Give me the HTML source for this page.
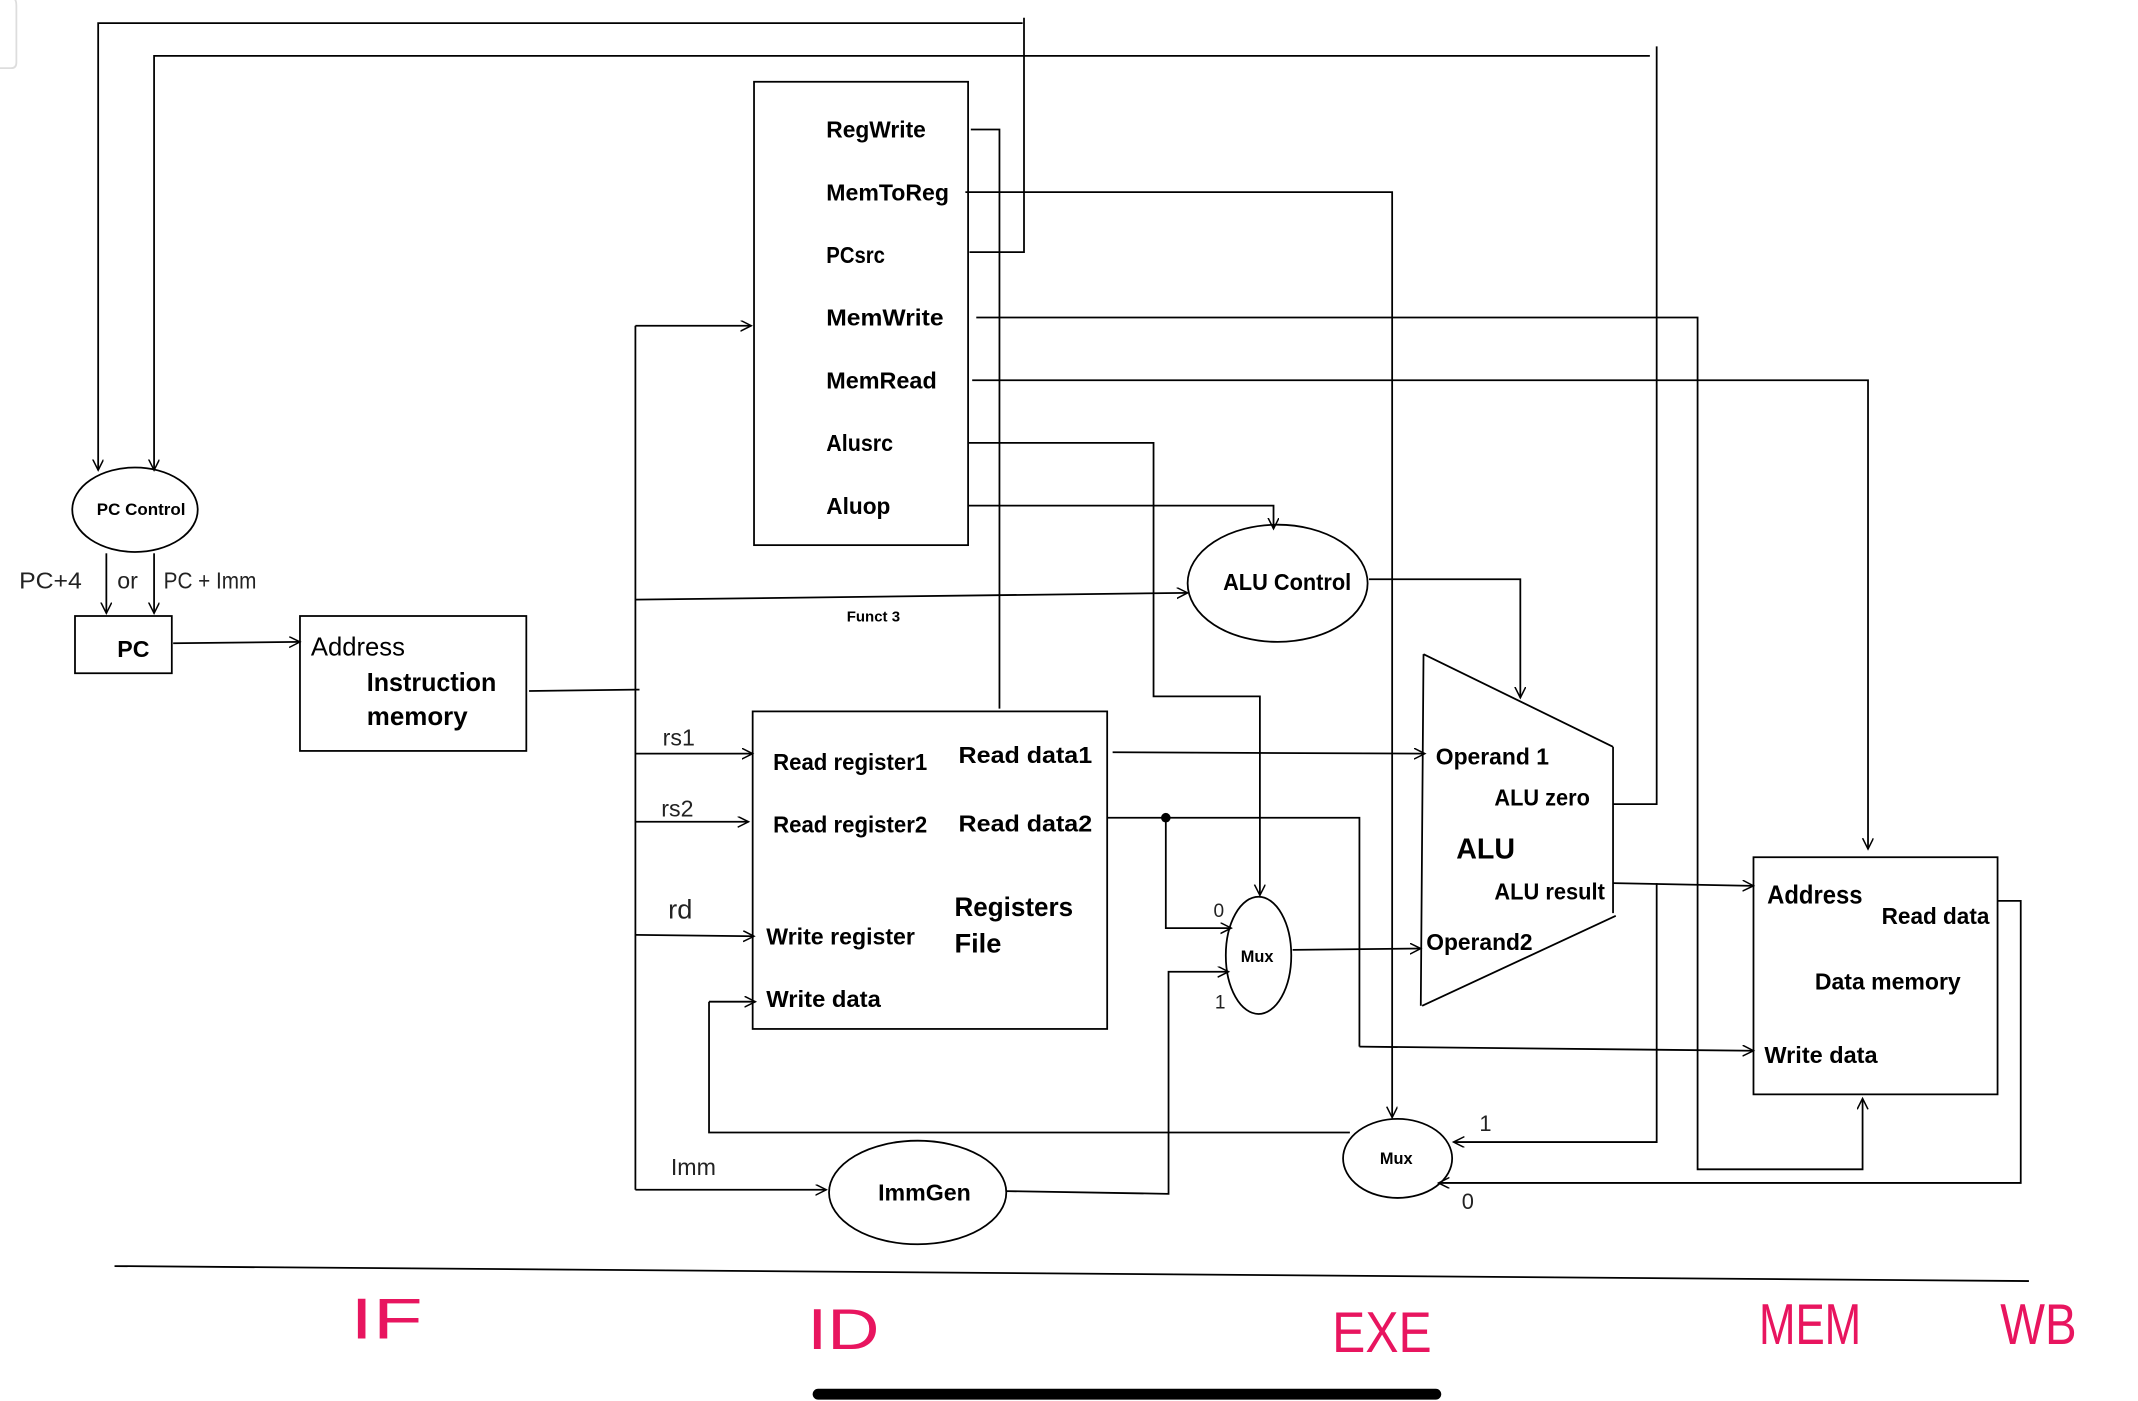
<!DOCTYPE html>
<html><head><meta charset="utf-8"><style>
html,body{margin:0;padding:0;background:#fff;}
svg{display:block;}
text{font-family:"Liberation Sans Narrow","Liberation Sans",sans-serif;font-weight:bold;fill:#000;}
.h{font-family:"Liberation Sans Narrow","Liberation Sans",sans-serif;font-weight:normal;fill:#222;}
.p{font-family:"Liberation Sans Narrow","Liberation Sans",sans-serif;font-weight:normal;fill:#e8155f;}
</style></head><body>
<svg width="2138" height="1401" viewBox="0 0 1568 1028" preserveAspectRatio="none" xmlns="http://www.w3.org/2000/svg">
<defs>
<marker id="a" markerWidth="10" markerHeight="10" refX="8" refY="4" orient="auto" markerUnits="userSpaceOnUse">
<path d="M0,0 L8,4 L0,8" fill="none" stroke="#000" stroke-width="1.1"/>
</marker>
</defs>
<g fill="none" stroke="#000" stroke-width="1.3">
<path d="M-2,-2 H8 Q12,-2 12,4 V46 Q12,50 8,50 H-2" stroke="#ddd"/>
<path d="M711,185 H751 V13"/>
<path d="M750,17 H72 V345" marker-end="url(#a)"/>
<path d="M1183,590 H1215 V34"/>
<path d="M1210,41 H113 V345" marker-end="url(#a)"/>
<rect x="553" y="60" width="157" height="340"/>
<path d="M712,95 H733 V520"/>
<path d="M708,141 H1021 V820" marker-end="url(#a)"/>
<path d="M716,233 H1245 V858 H1366 V806" marker-end="url(#a)"/>
<path d="M713,279 H1370 V623" marker-end="url(#a)"/>
<path d="M710,325 H846 V511 H924 V657" marker-end="url(#a)"/>
<path d="M710,371 H934 V388" marker-end="url(#a)"/>
<ellipse cx="937" cy="428" rx="66" ry="43"/>
<path d="M1004,425 H1115 V512" marker-end="url(#a)"/>
<path d="M1044,480 L1183,548 M1183,548 V670 M1185,672 L1043,738 M1044,480 L1042,738"/>
<ellipse cx="99" cy="374" rx="46" ry="31"/>
<path d="M78,406 V450" marker-end="url(#a)"/>
<path d="M113,406 V450" marker-end="url(#a)"/>
<rect x="55" y="452" width="71" height="42"/>
<path d="M127,472 L220,471" marker-end="url(#a)"/>
<rect x="220" y="452" width="166" height="99"/>
<path d="M388,507 L469,506"/>
<path d="M466,239 V873"/>
<path d="M466,239 H551" marker-end="url(#a)"/>
<path d="M466,440 L871,435" marker-end="url(#a)"/>
<rect x="552" y="522" width="260" height="233"/>
<path d="M466,553 H552" marker-end="url(#a)"/>
<path d="M466,603 H549" marker-end="url(#a)"/>
<path d="M466,686 L553,687" marker-end="url(#a)"/>
<path d="M520,735 H554" marker-end="url(#a)"/>
<path d="M520,735 V831 H990"/>
<path d="M466,873 H606" marker-end="url(#a)"/>
<ellipse cx="673" cy="875" rx="65" ry="38"/>
<path d="M738,874 L857,876 V713 H901" marker-end="url(#a)"/>
<path d="M816,552 L1045,553" marker-end="url(#a)"/>
<path d="M812,600 H997 V768"/>
<path d="M855,600 V681 H903" marker-end="url(#a)"/>
<path d="M997,768 L1286,771" marker-end="url(#a)"/>
<ellipse cx="923" cy="701" rx="24" ry="43"/>
<path d="M948,697 L1042,696" marker-end="url(#a)"/>
<path d="M1183,648 L1286,650" marker-end="url(#a)"/>
<path d="M1215,648 V838 H1066" marker-end="url(#a)"/>
<rect x="1286" y="629" width="179" height="174"/>
<path d="M1465,661 H1482 V868 H1055" marker-end="url(#a)"/>
<ellipse cx="1025" cy="850" rx="40" ry="29"/>
<path d="M84,929 L1488,940"/>
</g>
<circle cx="855" cy="600" r="3.5" fill="#000"/>
<rect x="596" y="1019" width="461" height="8" rx="4" fill="#000"/>
<g font-size="17">
<text x="606" y="101" textLength="73" lengthAdjust="spacingAndGlyphs">RegWrite</text>
<text x="606" y="147" textLength="90" lengthAdjust="spacingAndGlyphs">MemToReg</text>
<text x="606" y="193" textLength="43" lengthAdjust="spacingAndGlyphs">PCsrc</text>
<text x="606" y="239" textLength="86" lengthAdjust="spacingAndGlyphs">MemWrite</text>
<text x="606" y="285" textLength="81" lengthAdjust="spacingAndGlyphs">MemRead</text>
<text x="606" y="331" textLength="49" lengthAdjust="spacingAndGlyphs">Alusrc</text>
<text x="606" y="377" textLength="47" lengthAdjust="spacingAndGlyphs">Aluop</text>
<text x="897" y="433" textLength="94" lengthAdjust="spacingAndGlyphs">ALU Control</text>
<text x="1053" y="561" textLength="83" lengthAdjust="spacingAndGlyphs">Operand 1</text>
<text x="1096" y="591" textLength="70" lengthAdjust="spacingAndGlyphs">ALU zero</text>
<text x="1096" y="660" textLength="81" lengthAdjust="spacingAndGlyphs">ALU result</text>
<text x="1046" y="697" textLength="78" lengthAdjust="spacingAndGlyphs">Operand2</text>
<text x="567" y="565" textLength="113" lengthAdjust="spacingAndGlyphs">Read register1</text>
<text x="567" y="611" textLength="113" lengthAdjust="spacingAndGlyphs">Read register2</text>
<text x="562" y="693" textLength="109" lengthAdjust="spacingAndGlyphs">Write register</text>
<text x="562" y="739" textLength="84" lengthAdjust="spacingAndGlyphs">Write data</text>
<text x="703" y="560" textLength="98" lengthAdjust="spacingAndGlyphs">Read data1</text>
<text x="703" y="610" textLength="98" lengthAdjust="spacingAndGlyphs">Read data2</text>
<text x="644" y="881" textLength="68" lengthAdjust="spacingAndGlyphs">ImmGen</text>
<text x="1380" y="678" textLength="79" lengthAdjust="spacingAndGlyphs">Read data</text>
<text x="1331" y="726" textLength="107" lengthAdjust="spacingAndGlyphs">Data memory</text>
<text x="1294" y="780" textLength="83" lengthAdjust="spacingAndGlyphs">Write data</text>
<text x="269" y="507" font-size="19" textLength="95" lengthAdjust="spacingAndGlyphs">Instruction</text>
<text x="269" y="532" font-size="19" textLength="74" lengthAdjust="spacingAndGlyphs">memory</text>
<text x="86" y="482">PC</text>
</g>
<text x="1068" y="630" font-size="21">ALU</text>
<text x="700" y="672" font-size="20" textLength="87" lengthAdjust="spacingAndGlyphs">Registers</text>
<text x="700" y="699" font-size="20">File</text>
<text x="1296" y="663" font-size="19" textLength="70" lengthAdjust="spacingAndGlyphs">Address</text>
<text x="228" y="481" font-size="19" style="font-weight:normal" textLength="69" lengthAdjust="spacingAndGlyphs">Address</text>
<text x="71" y="378" font-size="12" textLength="65" lengthAdjust="spacingAndGlyphs">PC Control</text>
<text x="621" y="456" font-size="11">Funct 3</text>
<text x="910" y="706" font-size="12">Mux</text>
<text x="1012" y="854" font-size="12">Mux</text>
<g font-size="17">
<text class="h" x="14" y="432" textLength="46" lengthAdjust="spacingAndGlyphs">PC+4</text>
<text class="h" x="86" y="432">or</text>
<text class="h" x="120" y="432" textLength="68" lengthAdjust="spacingAndGlyphs">PC + Imm</text>
<text class="h" x="486" y="547">rs1</text>
<text class="h" x="485" y="599">rs2</text>
<text class="h" x="490" y="674" font-size="20">rd</text>
<text class="h" x="492" y="862">Imm</text>
<text class="h" x="890" y="673" font-size="14">0</text>
<text class="h" x="891" y="740" font-size="14">1</text>
<text class="h" x="1085" y="830" font-size="16">1</text>
<text class="h" x="1072" y="887" font-size="16">0</text>
</g>
<g font-size="42">
<text class="p" x="257" y="982" textLength="53" lengthAdjust="spacingAndGlyphs">IF</text>
<text class="p" x="592" y="990" textLength="53" lengthAdjust="spacingAndGlyphs">ID</text>
<text class="p" x="977" y="992" textLength="73" lengthAdjust="spacingAndGlyphs">EXE</text>
<text class="p" x="1290" y="986" textLength="75" lengthAdjust="spacingAndGlyphs">MEM</text>
<text class="p" x="1467" y="986" textLength="56" lengthAdjust="spacingAndGlyphs">WB</text>
</g>
</svg>
</body></html>
